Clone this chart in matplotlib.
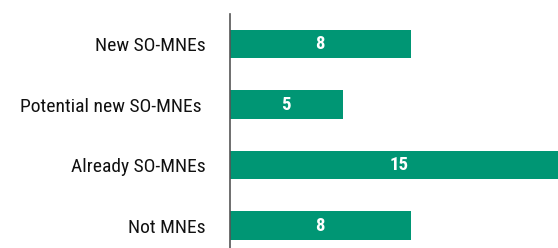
import matplotlib.pyplot as plt
from matplotlib import font_manager

categories = ["New SO-MNEs", "Potential new SO-MNEs ", "Already SO-MNEs", "Not MNEs"]
values = [8, 5, 15, 8]

names = {f.name for f in font_manager.fontManager.ttflist}
family = "Liberation Sans"
for cand in ["Roboto Condensed", "Liberation Sans Narrow", "Arial Narrow"]:
    if cand in names:
        family = cand
        break
plt.rcParams["font.family"] = [family, "DejaVu Sans"]

fig = plt.figure(figsize=(5.58, 2.48), dpi=100)
ax = fig.add_axes([229.5 / 558, 0, 1 - 229.5 / 558, 234 / 248])

pos = list(range(len(categories)))[::-1]
ax.barh(pos, values, height=0.47, color="#009674")
for y, v in zip(pos, values):
    ax.text(v / 2, y, str(v), color="white", fontsize=13.5, fontweight="bold",
            ha="center", va="center")

ax.set_xlim(0, 14.5)
ax.set_ylim(-0.37, 3.5)
ax.set_yticks(pos)
ax.set_yticklabels(categories, fontsize=14, color="#111111")
ax.tick_params(axis="y", length=0, pad=17)
ax.set_xticks([])
for s in ["top", "right", "bottom"]:
    ax.spines[s].set_visible(False)
ax.spines["left"].set_color("#555555")
ax.spines["left"].set_linewidth(1.2)

fig.savefig("out.png", dpi=100)
